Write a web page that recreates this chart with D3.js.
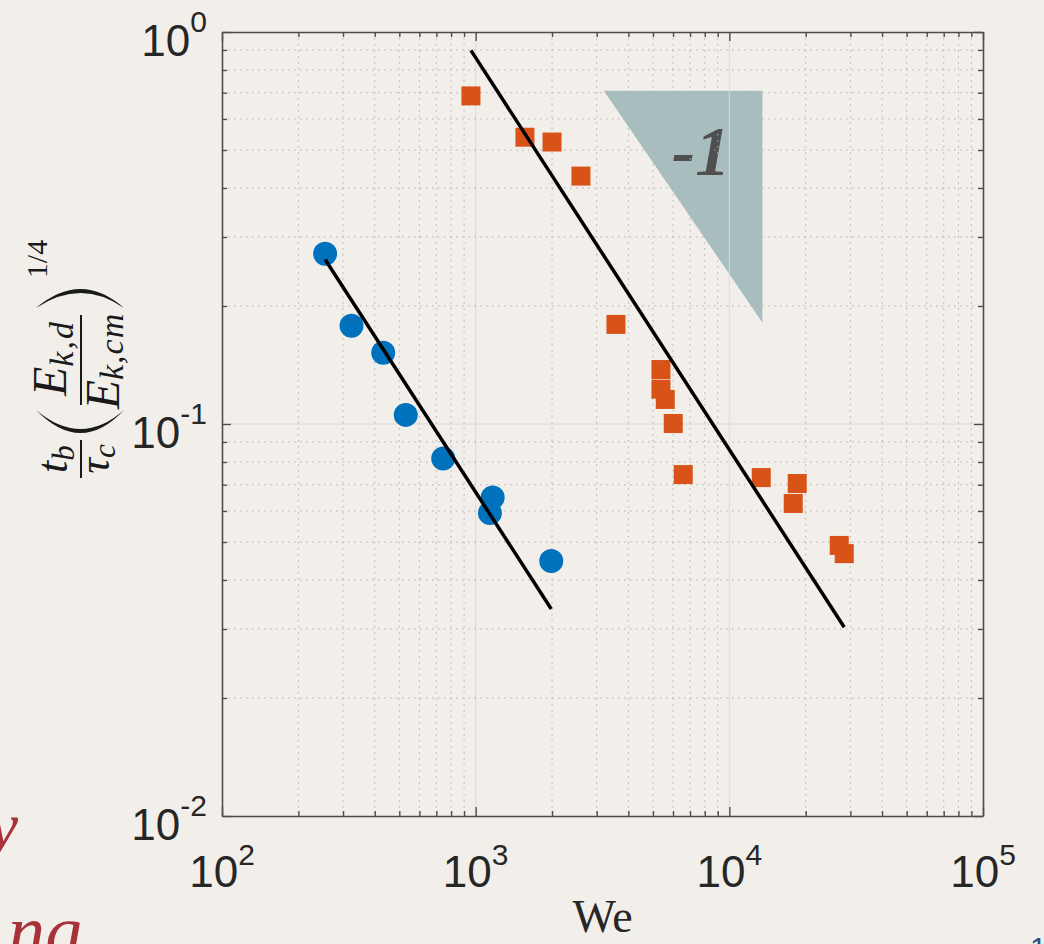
<!DOCTYPE html>
<html>
<head>
<meta charset="UTF-8">
<title>We scaling</title>
<script src="https://d3js.org/d3.v7.min.js"></script>
<style>
  body { margin: 0; background: #f2efea; }
  svg { display: block; }
</style>
</head>
<body>
<svg width="1044" height="944"></svg>
<script>
// blue circles
const blueWe = [255, 324, 432, 530, 745, 1167, 1138, 1986];
const blueT  = [0.272, 0.178, 0.152, 0.1055, 0.0817, 0.0649, 0.0593, 0.0447];
// orange squares
const orangeWe = [958, 1564, 2000, 2600, 3573, 5375, 5375, 5590, 6010, 6580, 13360, 18520, 17860, 27120, 28380];
const orangeT  = [0.687, 0.539, 0.524, 0.429, 0.1795, 0.1377, 0.1227, 0.1155, 0.1003, 0.0743, 0.0730, 0.0705, 0.0627, 0.049, 0.0467];
// slope -1 fits: t = C / We
const fitC    = [67, 860];
const fitFrom = [255, 958];
const fitTo   = [1986, 28380];
// slope triangle
const triWe = [3200, 13500, 13500];
const triT  = [0.708, 0.708, 0.1816];
// tick labels
const xTicks = [1e2, 1e3, 1e4, 1e5];
const xTickExp = ["2", "3", "4", "5"];
const yTicks = [1e-2, 1e-1, 1e0];
const yTickExp = ["-2", "-1", "0"];

const svg = d3.select('svg');
const m = {left: 222, right: 983, top: 32, bottom: 816};

const x = d3.scaleLog().domain([1e2, 1e5]).range([m.left, m.right]);
const y = d3.scaleLog().domain([1e-2, 1e0]).range([m.bottom, m.top]);

const isMajor = d => Math.abs(Math.log10(d) - Math.round(Math.log10(d))) < 1e-6;
const xAll = x.ticks();
const yAll = y.ticks();

// slope triangle
svg.append('path')
    .attr('d', d3.line()(triWe.map((w, i) => [x(w), y(triT[i])])) + 'Z')
    .attr('fill', '#a7bdbe');

svg.append('text')
    .attr('x', 701).attr('y', 175)
    .attr('text-anchor', 'middle')
    .attr('font-family', '"Liberation Serif", serif')
    .attr('font-style', 'italic').attr('font-weight', 'bold')
    .attr('font-size', 70)
    .attr('fill', '#4f4f4f')
    .text('-1');

// grid
const grid = svg.append('g');
grid.selectAll('.vx').data(xAll.filter(d => d > 1e2 && d < 1e5)).enter()
    .append('line')
    .attr('x1', d => x(d)).attr('x2', d => x(d))
    .attr('y1', m.top).attr('y2', m.bottom)
    .attr('stroke', d => isMajor(d) ? '#dcdad6' : '#b3b1ad')
    .attr('stroke-width', 1)
    .attr('stroke-dasharray', d => isMajor(d) ? null : '1.5,4.5');
grid.selectAll('.hy').data(yAll.filter(d => d > 1e-2 && d < 1)).enter()
    .append('line')
    .attr('y1', d => y(d)).attr('y2', d => y(d))
    .attr('x1', m.left).attr('x2', m.right)
    .attr('stroke', d => isMajor(d) ? '#dcdad6' : '#b3b1ad')
    .attr('stroke-width', 1)
    .attr('stroke-dasharray', d => isMajor(d) ? null : '1.5,4.5');

// markers
svg.append('g').selectAll('circle')
    .data(blueWe.map((w, i) => [w, blueT[i]]))
    .enter().append('circle')
    .attr('cx', d => x(d[0])).attr('cy', d => y(d[1]))
    .attr('r', 12)
    .attr('fill', '#0072BD');

const sq = 19;
svg.append('g').selectAll('rect')
    .data(orangeWe.map((w, i) => [w, orangeT[i]]))
    .enter().append('rect')
    .attr('x', d => x(d[0]) - sq / 2).attr('y', d => y(d[1]) - sq / 2)
    .attr('width', sq).attr('height', sq)
    .attr('fill', '#D95319');

// fit lines
fitC.forEach((c, i) => {
    const pts = [fitFrom[i], fitTo[i]].map(w => [x(w), y(c / w)]);
    svg.append('path')
        .attr('d', d3.line()(pts))
        .attr('stroke', '#000')
        .attr('stroke-width', 3.5)
        .attr('fill', 'none');
});

// axes (box, inward ticks)
const axisCol = '#4d4d4d';
const tickLen = d => isMajor(d) ? 9 : 5;

const axB = svg.append('g').attr('transform', `translate(0,${m.bottom})`)
    .call(d3.axisBottom(x).tickValues(xAll).tickFormat('').tickSizeOuter(0));
axB.selectAll('.tick line').attr('y2', d => -tickLen(d));
const axT = svg.append('g').attr('transform', `translate(0,${m.top})`)
    .call(d3.axisTop(x).tickValues(xAll).tickFormat('').tickSizeOuter(0));
axT.selectAll('.tick line').attr('y2', d => tickLen(d));
const axL = svg.append('g').attr('transform', `translate(${m.left},0)`)
    .call(d3.axisLeft(y).tickValues(yAll).tickFormat('').tickSizeOuter(0));
axL.selectAll('.tick line').attr('x2', d => tickLen(d));
const axR = svg.append('g').attr('transform', `translate(${m.right},0)`)
    .call(d3.axisRight(y).tickValues(yAll).tickFormat('').tickSizeOuter(0));
axR.selectAll('.tick line').attr('x2', d => -tickLen(d));

[axB, axT, axL, axR].forEach(g => {
    g.selectAll('path.domain').attr('stroke', axisCol).attr('stroke-width', 1.6);
    g.selectAll('.tick line').attr('stroke', axisCol).attr('stroke-width', 1.4);
});

// tick labels
const labelFont = '"Liberation Sans", Arial, sans-serif';
xTicks.forEach((v, i) => {
    const t = svg.append('text')
        .attr('x', x(v)).attr('y', m.bottom + 71)
        .attr('text-anchor', 'middle')
        .attr('font-family', labelFont).attr('font-size', 44)
        .attr('fill', '#262626');
    t.append('tspan').text('10');
    t.append('tspan').attr('dy', -22).attr('font-size', 30).text(xTickExp[i]);
});
yTicks.forEach((v, i) => {
    const t = svg.append('text')
        .attr('x', 207).attr('y', y(v) + 24)
        .attr('text-anchor', 'end')
        .attr('font-family', labelFont).attr('font-size', 44)
        .attr('fill', '#262626');
    t.append('tspan').text('10');
    t.append('tspan').attr('dy', -24).attr('font-size', 30).text(yTickExp[i]);
});

// axis titles
const serif = '"Liberation Serif", "Times New Roman", serif';
svg.append('text')
    .attr('x', (m.left + m.right) / 2).attr('y', 932)
    .attr('text-anchor', 'middle')
    .attr('font-family', serif).attr('font-size', 46)
    .attr('fill', '#262626')
    .text('We');

const yl = svg.append('g')
    .attr('transform', 'translate(81,480) rotate(-90)')
    .attr('font-family', serif).attr('fill', '#1a1a1a');

function mathText(g, cx, base, main, sub, fs, ss, sdy, ls) {
    const t = g.append('text').attr('x', cx).attr('y', base)
        .attr('text-anchor', 'middle').attr('font-size', fs)
        .attr('font-style', 'italic');
    t.append('tspan').text(main);
    if (sub) t.append('tspan').attr('dy', sdy).attr('font-size', ss)
        .attr('letter-spacing', ls || 0).text(sub);
}
mathText(yl, 21, -14, 't', 'b', 44, 31, 7);
mathText(yl, 21, 28, 'τ', 'c', 44, 31, 6);
yl.append('line').attr('x1', 2).attr('x2', 40).attr('y1', 0).attr('y2', 0)
    .attr('stroke', '#1a1a1a').attr('stroke-width', 2);
mathText(yl, 122, -15, 'E', 'k,d', 48, 34, 7, 2);
mathText(yl, 119, 38, 'E', 'k,cm', 48, 34, 4, 1);
yl.append('line').attr('x1', 75).attr('x2', 165).attr('y1', 0).attr('y2', 0)
    .attr('stroke', '#1a1a1a').attr('stroke-width', 2);
yl.append('path').attr('d', 'M70,-45 Q24,0 70,43 Q32,0 70,-45Z').attr('fill', '#1a1a1a');
yl.append('path').attr('d', 'M172,-45 Q210,0 172,43 Q202,0 172,-45Z').attr('fill', '#1a1a1a');
yl.append('text').attr('x', 221).attr('y', -34)
    .attr('text-anchor', 'middle').attr('font-size', 30).text('1/4');

// slide remnants at the edges
svg.append('text').attr('x', 18).attr('y', 848).attr('text-anchor', 'end')
    .attr('font-family', serif).attr('font-style', 'italic').attr('font-size', 66)
    .attr('fill', '#a8323a').text('y');
svg.append('text').attr('x', 82).attr('y', 956).attr('text-anchor', 'end')
    .attr('font-family', serif).attr('font-style', 'italic').attr('font-size', 74)
    .attr('fill', '#a8323a').text('ng');
svg.append('text').attr('x', 1030).attr('y', 958)
    .attr('font-family', labelFont).attr('font-size', 30)
    .attr('fill', '#2f4f7f').text('1');
</script>
</body>
</html>
